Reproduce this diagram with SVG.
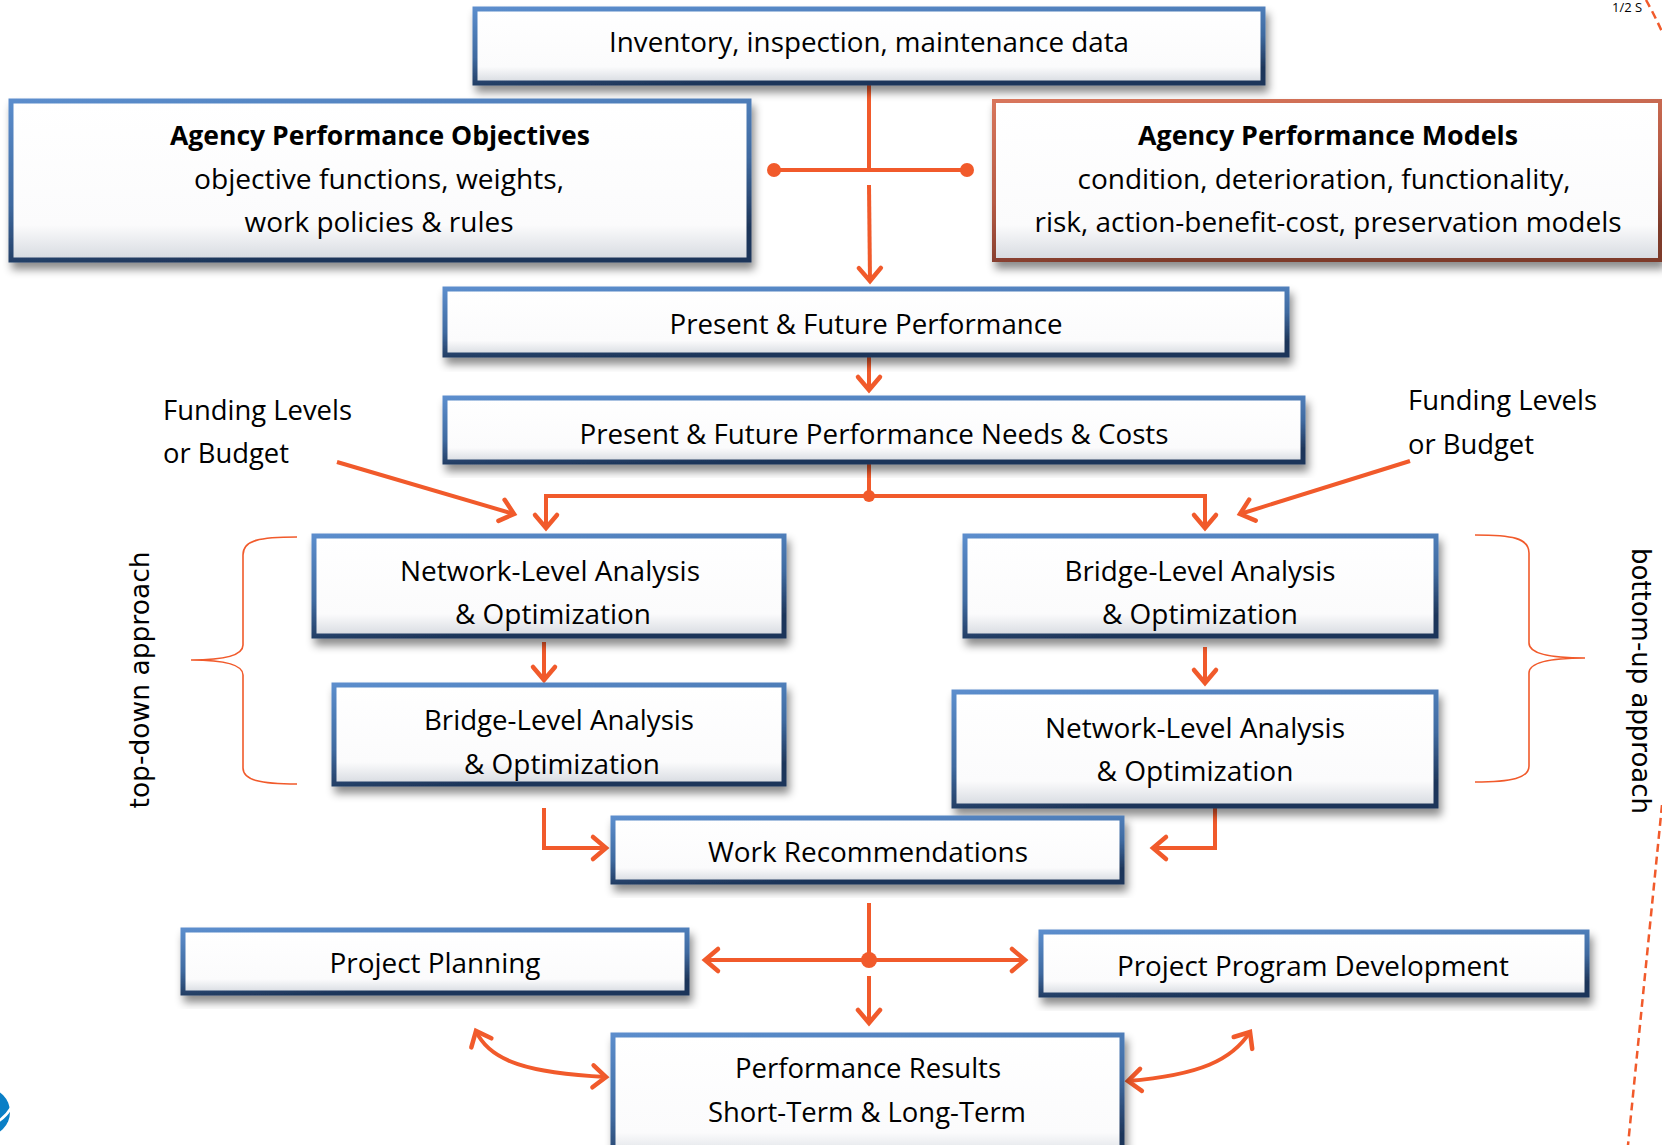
<svg xmlns="http://www.w3.org/2000/svg" width="1662" height="1145" viewBox="0 0 1662 1145">
  <defs>
    <linearGradient id="boxFill" x1="0" y1="0" x2="0" y2="1">
      <stop offset="0" stop-color="#ffffff"/>
      <stop offset="0.78" stop-color="#fbfbfc"/>
      <stop offset="1" stop-color="#d6dae0"/>
    </linearGradient>
    <linearGradient id="blueEdge" x1="0" y1="0" x2="0.3" y2="1">
      <stop offset="0" stop-color="#5b8dcc"/>
      <stop offset="0.6" stop-color="#3f6aa0"/>
      <stop offset="1" stop-color="#1e365a"/>
    </linearGradient>
    <linearGradient id="redEdge" x1="0" y1="0" x2="0.3" y2="1">
      <stop offset="0" stop-color="#d8765c"/>
      <stop offset="0.6" stop-color="#b55a44"/>
      <stop offset="1" stop-color="#7e3a2b"/>
    </linearGradient>
    <filter id="shadow" x="-5%" y="-10%" width="112%" height="135%">
      <feDropShadow dx="3" dy="7" stdDeviation="4" flood-color="#000000" flood-opacity="0.45"/>
    </filter>
    <marker id="arrow" markerUnits="userSpaceOnUse" markerWidth="22" markerHeight="30" viewBox="-4 -4 22 30" refX="13" refY="11" orient="auto-start-reverse">
      <path d="M0,0 L13,11 L0,22" fill="none" stroke="#f15a2b" stroke-width="4.5" stroke-linecap="round" stroke-linejoin="miter"/>
    </marker>
    <style>
      .box { fill: url(#boxFill); stroke: url(#blueEdge); stroke-width: 5; filter: url(#shadow); }
      .redbox { fill: url(#boxFill); stroke: url(#redEdge); stroke-width: 4; filter: url(#shadow); }
      .t { font-family: "Open Sans", "Liberation Sans", sans-serif; font-size: 27px; fill: #000; text-anchor: middle; }
      .ts { font-family: "Open Sans", "Liberation Sans", sans-serif; font-size: 27px; fill: #000; text-anchor: start; }
      .b { font-weight: bold; }
      .rot { font-family: "DejaVu Sans", "Liberation Sans", sans-serif; font-size: 26px; fill: #000; text-anchor: middle; }
      .c { fill: none; stroke: #f15a2b; stroke-width: 4; }
      .brace { fill: none; stroke: #f15a2b; stroke-width: 1.6; }
      .dash { fill: none; stroke: #f15a2b; stroke-width: 2.5; stroke-dasharray: 8 5; }
      .dot { fill: #f15a2b; }
    </style>
  </defs>

  <rect width="1662" height="1145" fill="#ffffff"/>

  <!-- decorative fragments -->
  <path class="dash" d="M1646,0 Q1655,16 1664,36"/>
  <path class="dash" d="M1662,805 L1628,1145"/>
  <text x="1612" y="12" style="font-family:'Open Sans','Liberation Sans',sans-serif;font-size:13px;fill:#000">1/2 S</text>
  <circle cx="-14" cy="1112" r="24" fill="#0a7fc6"/>
  <path d="M-22,1128 Q0,1126 11,1108" fill="none" stroke="#ffffff" stroke-width="2.5"/>

  <!-- braces -->
  <path class="brace" d="M297,537 C260,537 243,540 243,555 L243,645 C243,655 225,660 191,660 C225,660 243,665 243,675 L243,768 C243,780 260,784 297,784"/>
  <path class="brace" d="M1475,535 C1512,535 1529,538 1529,553 L1529,643 C1529,653 1547,658 1585,658 C1547,658 1529,663 1529,673 L1529,766 C1529,778 1512,782 1475,782"/>
  <text class="rot" transform="translate(149,680) rotate(-90)" textLength="257" lengthAdjust="spacingAndGlyphs">top-down approach</text>
  <text class="rot" transform="translate(1632,681) rotate(90)" textLength="266" lengthAdjust="spacingAndGlyphs">bottom-up approach</text>

  <!-- funding labels -->
  <text class="ts" x="163" y="420" textLength="189" lengthAdjust="spacingAndGlyphs">Funding Levels</text>
  <text class="ts" x="163" y="463" textLength="126" lengthAdjust="spacingAndGlyphs">or Budget</text>
  <text class="ts" x="1408" y="410" textLength="189" lengthAdjust="spacingAndGlyphs">Funding Levels</text>
  <text class="ts" x="1408" y="454" textLength="126" lengthAdjust="spacingAndGlyphs">or Budget</text>

  <!-- connectors -->
  <g id="connectors">
    <path class="c" d="M869,85 L869,170"/>
    <path class="c" d="M774,170 L967,170"/>
    <circle class="dot" cx="774" cy="170" r="7"/>
    <circle class="dot" cx="967" cy="170" r="7"/>
    <path class="c" d="M869,185 L870,281" marker-end="url(#arrow)"/>
    <path class="c" d="M869,357 L869,390" marker-end="url(#arrow)"/>
    <path class="c" d="M869,462 L869,496"/>
    <path class="c" d="M546,528 L546,496 L1205,496 L1205,528" marker-start="url(#arrow)" marker-end="url(#arrow)"/>
    <circle class="dot" cx="869" cy="496" r="6"/>
    <path class="c" d="M337,462 L514,514" marker-end="url(#arrow)"/>
    <path class="c" d="M1410,461 L1240,514" marker-end="url(#arrow)"/>
    <path class="c" d="M544,642 L544,680" marker-end="url(#arrow)"/>
    <path class="c" d="M1205,647 L1205,683" marker-end="url(#arrow)"/>
    <path class="c" d="M544,808 L544,848 L606,848" marker-end="url(#arrow)"/>
    <path class="c" d="M1215,808 L1215,848 L1153,848" marker-end="url(#arrow)"/>
    <path class="c" d="M869,903 L869,960"/>
    <circle class="dot" cx="869" cy="960" r="8"/>
    <path class="c" d="M869,976 L869,1023" marker-end="url(#arrow)"/>
    <path class="c" d="M705,960 L1025,960" marker-start="url(#arrow)" marker-end="url(#arrow)"/>
    <path class="c" d="M476,1031 C490,1062 530,1073 606,1077" marker-start="url(#arrow)" marker-end="url(#arrow)"/>
    <path class="c" d="M1128,1081 C1200,1075 1232,1060 1250,1032" marker-start="url(#arrow)" marker-end="url(#arrow)"/>
  </g>

  <!-- nodes -->
  <g id="inventory">
    <rect class="box" x="475" y="9" width="788" height="74"/>
    <text class="t" x="869" y="52" textLength="520" lengthAdjust="spacingAndGlyphs">Inventory, inspection, maintenance data</text>
  </g>
  <g id="objectives">
    <rect class="box" x="11" y="101" width="738" height="159"/>
    <text class="t b" x="380" y="145" textLength="420" lengthAdjust="spacingAndGlyphs">Agency Performance Objectives</text>
    <text class="t" x="379" y="189" textLength="370" lengthAdjust="spacingAndGlyphs">objective functions, weights,</text>
    <text class="t" x="379" y="232" textLength="269" lengthAdjust="spacingAndGlyphs">work policies &amp; rules</text>
  </g>
  <g id="models">
    <rect class="redbox" x="994" y="101" width="666" height="159"/>
    <text class="t b" x="1328" y="145" textLength="380" lengthAdjust="spacingAndGlyphs">Agency Performance Models</text>
    <text class="t" x="1324" y="189" textLength="493" lengthAdjust="spacingAndGlyphs">condition, deterioration, functionality,</text>
    <text class="t" x="1328" y="232" textLength="587" lengthAdjust="spacingAndGlyphs">risk, action-benefit-cost, preservation models</text>
  </g>
  <g id="present">
    <rect class="box" x="445" y="289" width="842" height="66"/>
    <text class="t" x="866" y="334" textLength="393" lengthAdjust="spacingAndGlyphs">Present &amp; Future Performance</text>
  </g>
  <g id="needs">
    <rect class="box" x="445" y="398" width="858" height="64"/>
    <text class="t" x="874" y="444" textLength="589" lengthAdjust="spacingAndGlyphs">Present &amp; Future Performance Needs &amp; Costs</text>
  </g>
  <g id="network-left">
    <rect class="box" x="314" y="536" width="470" height="100"/>
    <text class="t" x="550" y="581" textLength="300" lengthAdjust="spacingAndGlyphs">Network-Level Analysis</text>
    <text class="t" x="553" y="624" textLength="196" lengthAdjust="spacingAndGlyphs">&amp; Optimization</text>
  </g>
  <g id="bridge-left">
    <rect class="box" x="334" y="685" width="450" height="99"/>
    <text class="t" x="559" y="730" textLength="270" lengthAdjust="spacingAndGlyphs">Bridge-Level Analysis</text>
    <text class="t" x="562" y="774" textLength="196" lengthAdjust="spacingAndGlyphs">&amp; Optimization</text>
  </g>
  <g id="bridge-right">
    <rect class="box" x="965" y="536" width="471" height="100"/>
    <text class="t" x="1200" y="581" textLength="271" lengthAdjust="spacingAndGlyphs">Bridge-Level Analysis</text>
    <text class="t" x="1200" y="624" textLength="196" lengthAdjust="spacingAndGlyphs">&amp; Optimization</text>
  </g>
  <g id="network-right">
    <rect class="box" x="954" y="692" width="482" height="114"/>
    <text class="t" x="1195" y="738" textLength="300" lengthAdjust="spacingAndGlyphs">Network-Level Analysis</text>
    <text class="t" x="1195" y="781" textLength="197" lengthAdjust="spacingAndGlyphs">&amp; Optimization</text>
  </g>
  <g id="work">
    <rect class="box" x="613" y="818" width="509" height="64"/>
    <text class="t" x="868" y="862" textLength="320" lengthAdjust="spacingAndGlyphs">Work Recommendations</text>
  </g>
  <g id="planning">
    <rect class="box" x="183" y="930" width="504" height="63"/>
    <text class="t" x="435" y="973" textLength="211" lengthAdjust="spacingAndGlyphs">Project Planning</text>
  </g>
  <g id="program">
    <rect class="box" x="1041" y="932" width="546" height="63"/>
    <text class="t" x="1313" y="976" textLength="392" lengthAdjust="spacingAndGlyphs">Project Program Development</text>
  </g>
  <g id="results">
    <rect class="box" x="613" y="1035" width="509" height="125"/>
    <text class="t" x="868" y="1078" textLength="266" lengthAdjust="spacingAndGlyphs">Performance Results</text>
    <text class="t" x="867" y="1122" textLength="318" lengthAdjust="spacingAndGlyphs">Short-Term &amp; Long-Term</text>
  </g>
</svg>
